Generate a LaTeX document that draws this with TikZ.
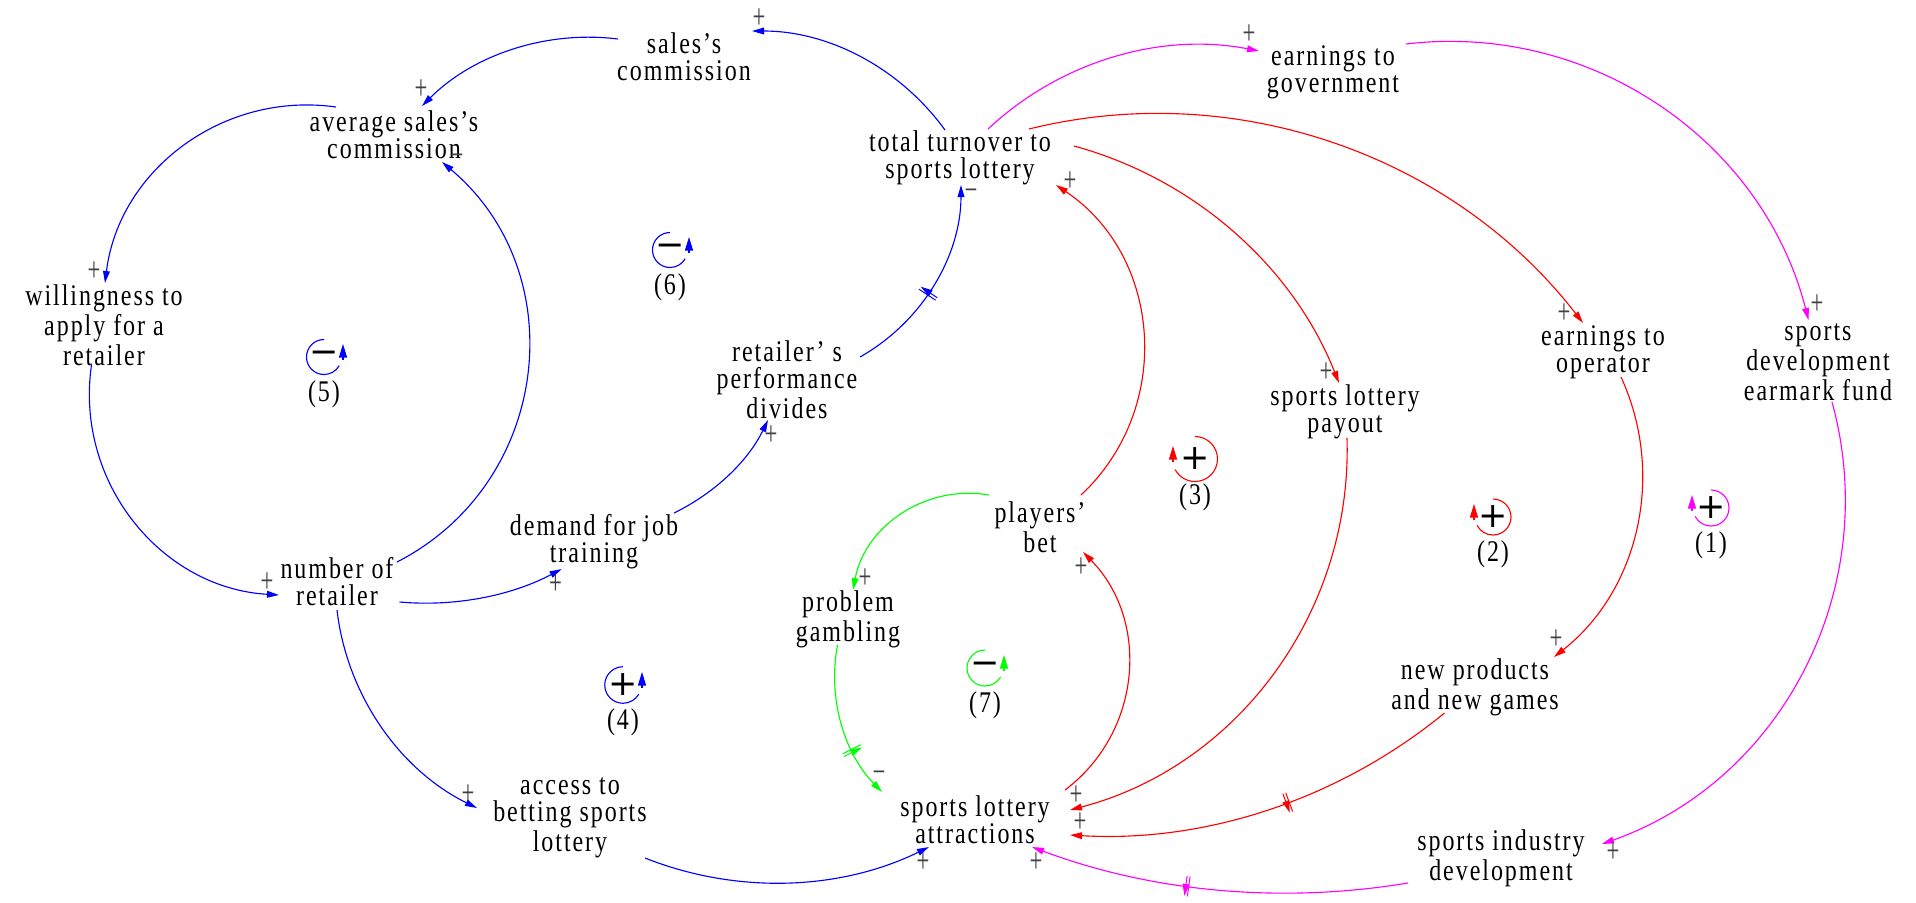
\documentclass[tikz,border=0pt]{standalone}
\usepackage{fontspec}
\setmainfont{Liberation Serif}[FakeStretch=0.8,LetterSpace=6.5]
\newfontfamily\polfont{Liberation Serif}[FakeStretch=0.65]
\newfontfamily\symfont{DejaVu Sans}
\usetikzlibrary{arrows.meta,decorations.markings}

\definecolor{lkblue}{RGB}{0,0,255}
\definecolor{lkred}{RGB}{255,0,0}
\definecolor{lkgreen}{RGB}{0,255,0}
\definecolor{lkmag}{RGB}{255,0,255}

\tikzset{
  var/.style={align=center, font=\fontsize{12}{10.8}\selectfont, inner sep=0pt},
  link/.style={line width=0.45pt, -{Triangle[length=4.8pt,width=2.7pt]}},
  pol/.style={font=\polfont\fontsize{14}{14}\selectfont, inner sep=0pt, text=black!75},
  delay/.style={postaction={decorate, decoration={markings,
      mark=at position #1 with {\draw[line width=0.4pt] (-0.6pt,-4pt)--(-0.6pt,4pt) (0.6pt,-4pt)--(0.6pt,4pt);}}}},
  loopsym/.style={font=\symfont\fontsize{14}{14}\selectfont, inner sep=0pt},
  looplbl/.style={font=\fontsize{12}{12}\selectfont, inner sep=0pt},
  loopline/.style={line width=0.45pt},
  looptip/.style={line width=0.45pt, -{Triangle[length=5.4pt,width=3.2pt]}},
}

\begin{document}
\begin{tikzpicture}[x=0.4pt,y=-0.4pt]
\useasboundingbox (0,0) rectangle (1916,902);

% variables
\node[var] (sales)  at (684,57)   {sales’s\\commission};
\node[var] (avg)    at (394,135)  {average sales’s\\commission};
\node[var] (will)   at (104,325)  {willingness to\\apply for a\\retailer};
\node[var] (nret)   at (337,582)  {number of\\retailer};
\node[var] (demand) at (594,542)  {demand for job\\training};
\node[var] (access) at (570,818)  {access to\\betting sports\\lottery};
\node[var] (tot)    at (960,158)  {total turnover to\\sports lottery};
\node[var] (perf)   at (787,380)  {retailer’ s\\performance\\divides};
\node[var] (gov)    at (1333,72)  {earnings to\\government};
\node[var] (oper)   at (1603,352) {earnings to\\operator};
\node[var] (fund)   at (1818,362) {sports\\development\\earmark fund};
\node[var] (payout) at (1345,412) {sports lottery\\payout};
\node[var] (bet)    at (1040,527) {players’\\bet};
\node[var] (prob)   at (848,619)  {problem\\gambling};
\node[var] (attr)   at (975,820)  {sports lottery\\attractions};
\node[var] (newp)   at (1475,687) {new products\\and new games};
\node[var] (ind)    at (1501,858) {sports industry\\development};

% blue links
\draw[link,lkblue] ([shift={(-15,-28)}]tot.center) .. controls +(-45,-62) and +(77,0) .. ([shift={(68,-26)}]sales.center) node[pol,shift={(7,-12)}] {+};
\draw[link,lkblue] ([shift={(-66,-18)}]sales.center) .. controls +(-72,-9) and +(51,-51) .. ([shift={(28,-29)}]avg.center) node[pol,shift={(-1,-16)}] {+};
\draw[link,lkblue] ([shift={(-58,-28)}]avg.center) .. controls +(-113,-16) and +(14,-113) .. ([shift={(1,-42)}]will.center) node[pol,shift={(-11,-11)}] {+};
\draw[link,lkblue] ([shift={(-12.5,40)}]will.center) .. controls +(-17,117) and +(-118,-7) .. ([shift={(-58,13)}]nret.center) node[pol,shift={(-12,-12)}] {+};
\draw[link,lkblue] ([shift={(60,-20)}]nret.center) .. controls +(154,-79) and +(132,111) .. ([shift={(48,27)}]avg.center) node[pol,shift={(15,-2)}] {−};
\draw[link,lkblue] ([shift={(62.5,20)}]nret.center) .. controls +(56,5) and +(-50,26.5) .. ([shift={(-32.4,27)}]demand.center) node[pol,shift={(-6,16)}] {+};
\draw[link,lkblue] ([shift={(80,-29)}]demand.center) .. controls +(41,-20) and +(-20,41) .. ([shift={(-19,40)}]perf.center) node[pol,shift={(3,16)}] {+};
\draw[link,lkblue,delay=0.45] ([shift={(73,-23)}]perf.center) .. controls +(62,-35) and +(0,71) .. ([shift={(1,27)}]tot.center) node[pol,shift={(10,10)}] {−};
\draw[link,lkblue] ([shift={(75,40)}]access.center) .. controls +(92,36.5) and +(-89,43.5) .. ([shift={(-46,27)}]attr.center) node[pol,shift={(-6,16)}] {+};
\draw[link,lkblue] ([shift={(0,28)}]nret.center) .. controls +(10,85.5) and +(-77,-38) .. ([shift={(-93,-10)}]access.center) node[pol,shift={(-9,-13)}] {+};

% green links
\draw[link,lkgreen] ([shift={(-51,-32)}]bet.center) .. controls +(-64,-11) and +(12,-63.5) .. ([shift={(5,-29)}]prob.center) node[pol,shift={(12,-11)}] {+};
\draw[link,lkgreen,delay=0.68] ([shift={(-10.5,26)}]prob.center) .. controls +(-10,53) and +(-38,-39) .. ([shift={(-93,-28)}]attr.center) node[pol,shift={(-3,-15)}] {−};

% red links
\draw[link,lkred] ([shift={(90,-30)}]attr.center) .. controls +(77,-58) and +(67,68.5) .. ([shift={(43,25)}]bet.center) node[pol,shift={(-2,16)}] {+};
\draw[link,lkred] ([shift={(41,-32)}]bet.center) .. controls +(93,-87) and +(106,71) .. ([shift={(96,27)}]tot.center) node[pol,shift={(14,-3)}] {+};
\draw[link,lkred] ([shift={(114,-12)}]tot.center) .. controls +(121,33) and +(-46,-116) .. ([shift={(-6,-29)}]payout.center) node[pol,shift={(-13,-10)}] {+};
\draw[link,lkred] ([shift={(69,-29)}]tot.center) .. controls +(206,-51) and +(-130,-168) .. ([shift={(-20,-29)}]oper.center) node[pol,shift={(-19,-9)}] {+};
\draw[link,lkred] ([shift={(18,25)}]oper.center) .. controls +(45,98) and +(84.5,-66.5) .. ([shift={(79,-30)}]newp.center) node[pol,shift={(2,-17)}] {+};
\draw[link,lkred,delay=0.45] ([shift={(-30.5,26)}]newp.center) .. controls +(-105,86) and +(136,8) .. ([shift={(95,15)}]attr.center) node[pol,shift={(10,-12)}] {+};
\draw[link,lkred] ([shift={(2,26)}]payout.center) .. controls +(5.5,173.5) and +(168,-44) .. ([shift={(95,-10)}]attr.center) node[pol,shift={(6,-14)}] {+};

% magenta links
\draw[link,lkmag] ([shift={(28,-29)}]tot.center) .. controls +(72.6,-68) and +(-97.6,-19) .. ([shift={(-74,-21)}]gov.center) node[pol,shift={(-10,-16)}] {+};
\draw[link,lkmag] ([shift={(73,-28)}]gov.center) .. controls +(184.5,-22) and +(-46,-180) .. ([shift={(-9.5,-42)}]fund.center) node[pol,shift={(8.5,-15)}] {+};
\draw[link,lkmag] ([shift={(14,40)}]fund.center) .. controls +(51,185) and +(181,-64) .. ([shift={(101,-14)}]ind.center) node[pol,shift={(11,9)}] {+};
\draw[link,lkmag,delay=0.58] ([shift={(-93,25)}]ind.center) .. controls +(-126.5,21) and +(120,45) .. ([shift={(57,27)}]attr.center) node[pol,shift={(4,16)}] {+};

% loop markers: counter-clockwise (arrow on the right)
\node[loopsym] (l5) at (324,357) {−};
\draw[loopline,lkblue] ([shift={(90:7pt)}]l5.center) arc[start angle=90,end angle=330,radius=7pt];
\draw[looptip,lkblue] ([shift={(19,3)}]l5.center) -- ([shift={(19,-13)}]l5.center);
\node[looplbl] (l5n) at (324,394) {(5)};

\node[loopsym] (l6) at (670,250) {−};
\draw[loopline,lkblue] ([shift={(90:7pt)}]l6.center) arc[start angle=90,end angle=330,radius=7pt];
\draw[looptip,lkblue] ([shift={(19,3)}]l6.center) -- ([shift={(19,-13)}]l6.center);
\node[looplbl] (l6n) at (670,287) {(6)};

\node[loopsym] (l4) at (623,685) {+};
\draw[loopline,lkblue] ([shift={(90:7.3pt)}]l4.center) arc[start angle=90,end angle=330,radius=7.3pt];
\draw[looptip,lkblue] ([shift={(19,3)}]l4.center) -- ([shift={(19,-13)}]l4.center);
\node[looplbl] (l4n) at (623,722) {(4)};

\node[loopsym] (l7) at (985,668) {−};
\draw[loopline,lkgreen] ([shift={(90:7.2pt)}]l7.center) arc[start angle=90,end angle=330,radius=7.2pt];
\draw[looptip,lkgreen] ([shift={(19,3)}]l7.center) -- ([shift={(19,-13)}]l7.center);
\node[looplbl] (l7n) at (985,705) {(7)};

% loop markers: clockwise (arrow on the left)
\node[loopsym] (l3) at (1195,459) {+};
\draw[loopline,lkred] ([shift={(90:9pt)}]l3.center) arc[start angle=90,end angle=-152,radius=9pt];
\draw[looptip,lkred] ([shift={(-22,3)}]l3.center) -- ([shift={(-22,-13)}]l3.center);
\node[looplbl] (l3n) at (1195,497) {(3)};

\node[loopsym] (l2) at (1493,517) {+};
\draw[loopline,lkred] ([shift={(90:7.2pt)}]l2.center) arc[start angle=90,end angle=-152,radius=7.2pt];
\draw[looptip,lkred] ([shift={(-19,3)}]l2.center) -- ([shift={(-19,-13)}]l2.center);
\node[looplbl] (l2n) at (1493,554) {(2)};

\node[loopsym] (l1) at (1711,508) {+};
\draw[loopline,lkmag] ([shift={(90:7.2pt)}]l1.center) arc[start angle=90,end angle=-152,radius=7.2pt];
\draw[looptip,lkmag] ([shift={(-19,3)}]l1.center) -- ([shift={(-19,-13)}]l1.center);
\node[looplbl] (l1n) at (1711,545) {(1)};
\end{tikzpicture}
\end{document}
